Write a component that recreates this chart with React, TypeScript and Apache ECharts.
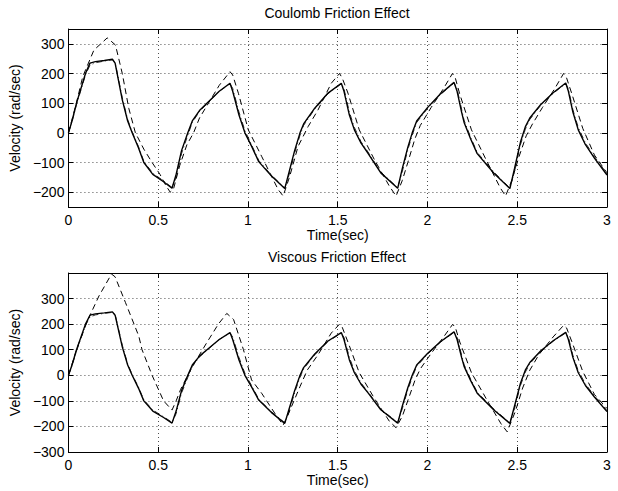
import React, { useEffect, useRef } from "react";
import * as echarts from "echarts";

// ---- Data ----
const refTime = [
  0, 0.02, 0.045, 0.095, 0.12, 0.15, 0.2, 0.245, 0.26, 0.3,
  0.33, 0.355, 0.39, 0.42, 0.47, 0.53, 0.577, 0.6, 0.63, 0.665,
  0.69, 0.73, 0.78, 0.84, 0.9, 0.915, 0.95, 0.983, 1.02, 1.06,
  1.13, 1.205, 1.23, 1.26, 1.29, 1.31, 1.372, 1.446, 1.52, 1.535,
  1.565, 1.593, 1.63, 1.668, 1.74, 1.834, 1.86, 1.89, 1.915, 1.94,
  2.0, 2.07, 2.148, 2.165, 2.19, 2.204, 2.24, 2.277, 2.37, 2.459,
  2.485, 2.518, 2.545, 2.57, 2.63, 2.7, 2.77, 2.785, 2.81, 2.84,
  2.88, 2.93, 3.0,
];
const refSolid = [
  0, 40, 100, 200, 235, 240, 244, 248, 235, 111,
  40, 0, -50, -100, -140, -165, -187, -140, -60, 0,
  40, 75, 105, 140, 167, 140, 60, 0, -45, -97,
  -145, -188, -130, -60, 0, 30, 83, 134, 167, 140,
  60, 10, -35, -68, -135, -187, -120, -50, 0, 40,
  85, 130, 170, 140, 70, 35, -20, -70, -136, -188,
  -120, -31, 20, 50, 95, 135, 168, 140, 70, 10,
  -40, -85, -142,
];
const refDashDot = [
  0, 38, 95, 195, 228, 236, 242, 246, 238, 118,
  45, 3, -46, -96, -136, -162, -184, -150, -70, -8,
  35, 72, 103, 140, 165, 150, 70, 8, -40, -93,
  -142, -186, -140, -68, -8, 25, 80, 132, 165, 148,
  70, 18, -30, -64, -132, -185, -130, -58, -8, 35,
  82, 128, 168, 148, 80, 42, -14, -66, -132, -186,
  -130, -40, 12, 45, 92, 133, 166, 148, 78, 18,
  -34, -80, -138,
];

const coulombDashedTime = [
  0, 0.04, 0.08, 0.142, 0.216, 0.232, 0.262, 0.3, 0.336, 0.373,
  0.42, 0.466, 0.51, 0.545, 0.567, 0.585, 0.62, 0.66, 0.697, 0.73,
  0.78, 0.84, 0.9, 0.915, 0.947, 1.002, 1.076, 1.168, 1.196, 1.233,
  1.279, 1.335, 1.39, 1.464, 1.51, 1.525, 1.557, 1.62, 1.704, 1.788,
  1.825, 1.86, 1.89, 1.93, 1.96, 2.02, 2.09, 2.139, 2.155, 2.18,
  2.245, 2.33, 2.405, 2.435, 2.47, 2.51, 2.55, 2.585, 2.64, 2.71,
  2.758, 2.775, 2.805, 2.865, 2.93, 3.0,
];
const coulombDashed = [
  0, 90, 190, 279, 320, 312, 296, 200, 83, 0,
  -55, -100, -140, -180, -200, -190, -110, -40, 0, 50,
  100, 160, 206, 195, 133, 10, -79, -191, -213, -146,
  -46, 21, 77, 167, 200, 185, 134, 10, -90, -180,
  -213, -160, -101, -20, 25, 85, 150, 200, 185, 130,
  10, -95, -185, -213, -160, -80, -10, 30, 85, 150,
  200, 185, 130, 15, -75, -135,
];

const viscousDashedTime = [
  0, 0.05, 0.105, 0.17, 0.24, 0.26, 0.318, 0.392, 0.41, 0.466,
  0.53, 0.577, 0.6, 0.625, 0.665, 0.7, 0.77, 0.835, 0.882, 0.92,
  0.975, 1.02, 1.076, 1.15, 1.196, 1.22, 1.29, 1.33, 1.39, 1.464,
  1.51, 1.525, 1.557, 1.62, 1.704, 1.788, 1.825, 1.86, 1.89, 1.93,
  1.96, 2.02, 2.09, 2.14, 2.155, 2.18, 2.245, 2.33, 2.41, 2.444,
  2.49, 2.53, 2.57, 2.62, 2.7, 2.758, 2.775, 2.805, 2.865, 2.93,
  3.0,
];
const viscousDashed = [
  0, 110, 212, 310, 396, 385, 284, 153, 100, 0,
  -100, -136, -100, -55, 0, 45, 127, 200, 242, 218,
  100, -18, -70, -149, -195, -160, -44, 20, 80, 165,
  200, 188, 130, 10, -90, -180, -205, -160, -100, -20,
  25, 85, 150, 199, 188, 130, 10, -95, -190, -221,
  -140, -50, 20, 80, 150, 195, 185, 130, 15, -75,
  -130,
];

const xTicks = [0, 0.5, 1, 1.5, 2, 2.5, 3];
const coulombYTicks = [-200, -100, 0, 100, 200, 300];
const viscousYTicks = [-300, -200, -100, 0, 100, 200, 300];

const titles = ["Coulomb Friction Effect", "Viscous Friction Effect"];
const xName = "Time(sec)";
const yName = "Velocity (rad/sec)";

const FONT = "'Liberation Sans', Arial, Helvetica, sans-serif";

const zip = (t: number[], v: number[]) => t.map((x, i) => [x, v[i]]);
const fmt = (v: number) => (v < 0 ? "\u2212" + String(-v) : String(v));

export default function App() {
  const ref = useRef<HTMLDivElement>(null);

  useEffect(() => {
    if (!ref.current) return;
    const chart = echarts.init(ref.current, null, { renderer: "svg" });

    const grids = [
      { left: 66, top: 29, width: 541, height: 178 },
      { left: 66, top: 273, width: 541, height: 179 },
    ];
    const yRanges = [
      { min: -250, max: 350, ticks: coulombYTicks },
      { min: -300, max: 400, ticks: viscousYTicks },
    ];
    const nameGapsX = [12, 18];

    const xAxes: any[] = [];
    const yAxes: any[] = [];
    [0, 1].forEach((g) => {
      xAxes.push({
        gridIndex: g,
        type: "value",
        min: 0,
        max: 3,
        interval: 0.5,
        position: "bottom",
        axisLine: { show: true, onZero: false, lineStyle: { color: "#000", width: 1 } },
        axisTick: { show: true, inside: true, length: 5, lineStyle: { color: "#000" } },
        axisLabel: {
          color: "#000",
          fontSize: 14,
          fontFamily: FONT,
          margin: 6,
          showMinLabel: true,
          showMaxLabel: true,
          customValues: xTicks,
        },
        splitLine: { show: true, lineStyle: { color: "#000", width: 0.7, type: [1, 3] } },
        name: xName,
        nameLocation: "middle",
        nameGap: nameGapsX[g],
        nameTextStyle: { color: "#000", fontSize: 14, fontFamily: FONT },
      });
      xAxes.push({
        gridIndex: g,
        type: "value",
        min: 0,
        max: 3,
        interval: 0.5,
        position: "top",
        axisLine: { show: true, onZero: false, lineStyle: { color: "#000", width: 1 } },
        axisTick: { show: true, inside: true, length: 5, lineStyle: { color: "#000" } },
        axisLabel: { show: false },
        splitLine: { show: false },
      });
      const yr = yRanges[g];
      yAxes.push({
        gridIndex: g,
        type: "value",
        min: yr.min,
        max: yr.max,
        position: "left",
        axisLine: { show: true, onZero: false, lineStyle: { color: "#000", width: 1 } },
        axisTick: { show: true, inside: true, length: 5, lineStyle: { color: "#000" }, customValues: yr.ticks },
        axisLabel: {
          color: "#000",
          fontSize: 14,
          fontFamily: FONT,
          margin: 4,
          customValues: yr.ticks,
          formatter: (v: number) => fmt(v),
        },
        splitLine: { show: true, lineStyle: { color: "#000", width: 0.7, type: [1, 3] } },
        name: yName,
        nameLocation: "middle",
        nameGap: 33,
        nameRotate: 90,
        nameTextStyle: { color: "#000", fontSize: 14, fontFamily: FONT },
      });
      yAxes.push({
        gridIndex: g,
        type: "value",
        min: yr.min,
        max: yr.max,
        position: "right",
        axisLine: { show: true, onZero: false, lineStyle: { color: "#000", width: 1 } },
        axisTick: { show: true, inside: true, length: 5, lineStyle: { color: "#000" }, customValues: yr.ticks },
        axisLabel: { show: false },
        splitLine: { show: false },
      });
    });

    const mk = (data: number[][], g: number, kind: "solid" | "dashdot" | "dashed") => ({
      type: "line",
      xAxisIndex: g * 2,
      yAxisIndex: g * 2,
      data,
      showSymbol: false,
      symbol: "none",
      smooth: false,
      lineStyle: {
        color: "#000",
        width: kind === "solid" ? 1.4 : kind === "dashdot" ? 0.8 : 1,
        type: kind === "solid" ? "solid" : kind === "dashdot" ? [6, 3, 1, 3] : [6, 4],
      },
      z: kind === "solid" ? 3 : 2,
    });

    const option: any = {
      animation: false,
      backgroundColor: "#fff",
      grid: grids,
      xAxis: xAxes,
      yAxis: yAxes,
      graphic: [
        {
          type: "text",
          x: 337,
          y: 12.5,
          style: { text: titles[0], align: "center", verticalAlign: "middle", fontSize: 14, fontFamily: FONT, fill: "#000" },
        },
        {
          type: "text",
          x: 337,
          y: 257,
          style: { text: titles[1], align: "center", verticalAlign: "middle", fontSize: 14, fontFamily: FONT, fill: "#000" },
        },
      ],
      series: [
        mk(zip(coulombDashedTime, coulombDashed), 0, "dashed"),
        mk(zip(refTime, refDashDot), 0, "dashdot"),
        mk(zip(refTime, refSolid), 0, "solid"),
        mk(zip(viscousDashedTime, viscousDashed), 1, "dashed"),
        mk(zip(refTime, refDashDot), 1, "dashdot"),
        mk(zip(refTime, refSolid), 1, "solid"),
      ],
    };

    chart.setOption(option);
    return () => chart.dispose();
  }, []);

  return (
    <div
      ref={ref}
      style={{ position: "fixed", left: 0, top: 0, width: 618, height: 491, background: "#fff" }}
    />
  );
}
